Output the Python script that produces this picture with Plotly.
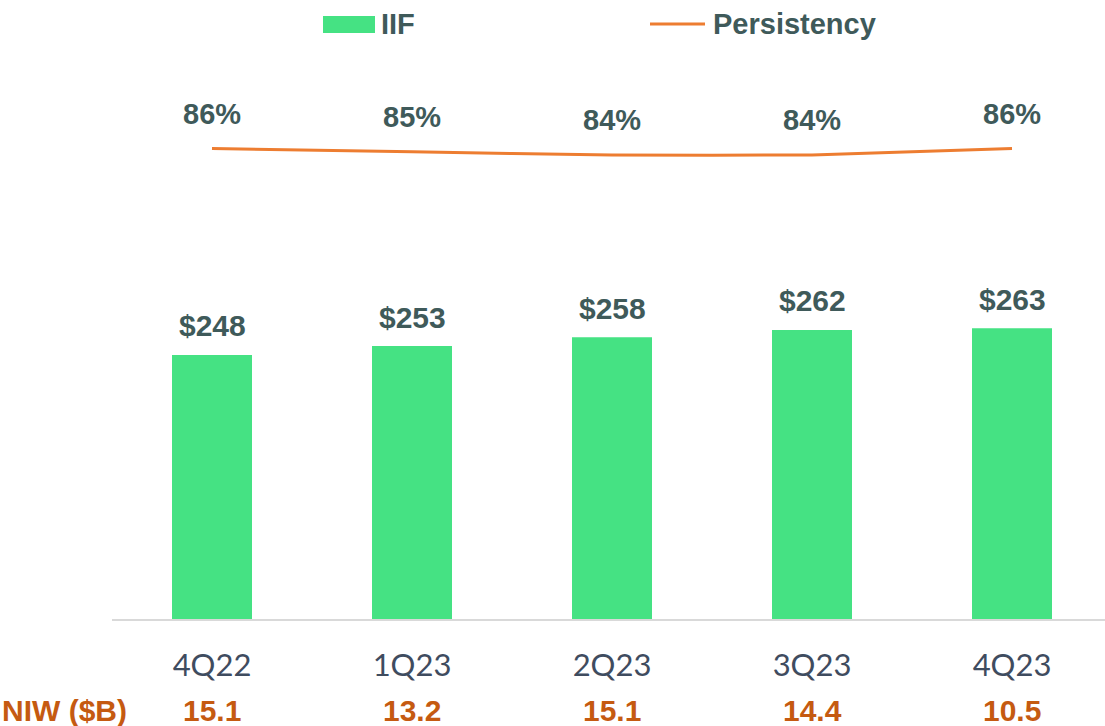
import plotly.graph_objects as go

categories = ["4Q22", "1Q23", "2Q23", "3Q23", "4Q23"]
iif = [248, 253, 258, 262, 263]
persistency = [86, 85, 84, 84, 86]
niw = ["15.1", "13.2", "15.1", "14.4", "10.5"]

GREEN = "#45E283"
ORANGE = "#ED7D31"
LABEL = "#3F5A5A"
TICK = "#3F4C5F"
NIWC = "#C55A11"
BOLD = "Arial, Liberation Sans, sans-serif"

W, H = 1105, 726
L, R, T, B = 112, 0, 60, 107
PH = H - T - B
PW = W - L - R

fig = go.Figure()
fig.add_trace(go.Bar(x=categories, y=iif, marker=dict(color=GREEN, line=dict(width=0)),
                     name="IIF", yaxis="y", hoverinfo="skip"))
fig.add_trace(go.Scatter(x=categories, y=persistency, mode="lines", name="Persistency",
                         line=dict(color=ORANGE, width=3, shape="spline", smoothing=0.4),
                         yaxis="y2", hoverinfo="skip"))

ann = []
for c, v in zip(categories, iif):
    ann.append(dict(x=c, y=v, xref="x", yref="y", text=f"<b>${v}</b>", showarrow=False,
                    yanchor="middle", yshift=29, font=dict(family=BOLD, size=30, color=LABEL)))
for c, v in zip(categories, persistency):
    ann.append(dict(x=c, y=v, xref="x", yref="y2", text=f"<b>{v}%</b>", showarrow=False,
                    yanchor="middle", yshift=35, font=dict(family=BOLD, size=29, color=LABEL)))
niw_y = (T + PH - 710) / PH
for c, v in zip(categories, niw):
    ann.append(dict(x=c, y=niw_y, xref="x", yref="paper", text=f"<b>{v}</b>", showarrow=False,
                    yanchor="middle", font=dict(family=BOLD, size=30, color=NIWC)))
ann.append(dict(x=(0 - L) / PW, y=niw_y, xref="paper", yref="paper", text="<b>NIW ($B)</b>",
                showarrow=False, xanchor="left", yanchor="middle",
                font=dict(family=BOLD, size=30, color=NIWC)))

def px(xp):
    return (xp - L) / PW

def py(yp):
    return (T + PH - yp) / PH

# legend
shapes = [
    dict(type="rect", xref="paper", yref="paper", x0=px(323), x1=px(375), y0=py(33), y1=py(16),
         fillcolor=GREEN, line=dict(width=0)),
    dict(type="line", xref="paper", yref="paper", x0=px(650), x1=px(705), y0=py(24), y1=py(24),
         line=dict(color=ORANGE, width=3)),
]
ann.append(dict(x=px(379), y=py(24), xref="paper", yref="paper", text="<b>IIF</b>", showarrow=False,
                xanchor="left", yanchor="middle", font=dict(family=BOLD, size=29, color=LABEL)))
ann.append(dict(x=px(711), y=py(24), xref="paper", yref="paper", text="<b>Persistency</b>", showarrow=False,
                xanchor="left", yanchor="middle", font=dict(family=BOLD, size=29, color=LABEL)))

y_max = 100 + PH / 1.784
y2_per = 3.25
y2_max = 86 + (148.5 - T) / y2_per
y2_min = y2_max - PH / y2_per

fig.update_layout(
    width=W, height=H,
    margin=dict(l=L, r=R, t=T, b=B),
    paper_bgcolor="white", plot_bgcolor="white",
    showlegend=False,
    bargap=0.6,
    xaxis=dict(range=[-0.5, 4.465], showline=True, linecolor="#D9D9D9", linewidth=1.5,
               showgrid=False, zeroline=False, ticks="",
               tickfont=dict(family="Lato, sans-serif", size=31, color=TICK),
               ticklabelstandoff=18),
    yaxis=dict(range=[100, y_max], visible=False, showgrid=False),
    yaxis2=dict(range=[y2_min, y2_max], overlaying="y", visible=False, showgrid=False),
    annotations=ann,
    shapes=shapes,
)

fig.write_html("out.html")
